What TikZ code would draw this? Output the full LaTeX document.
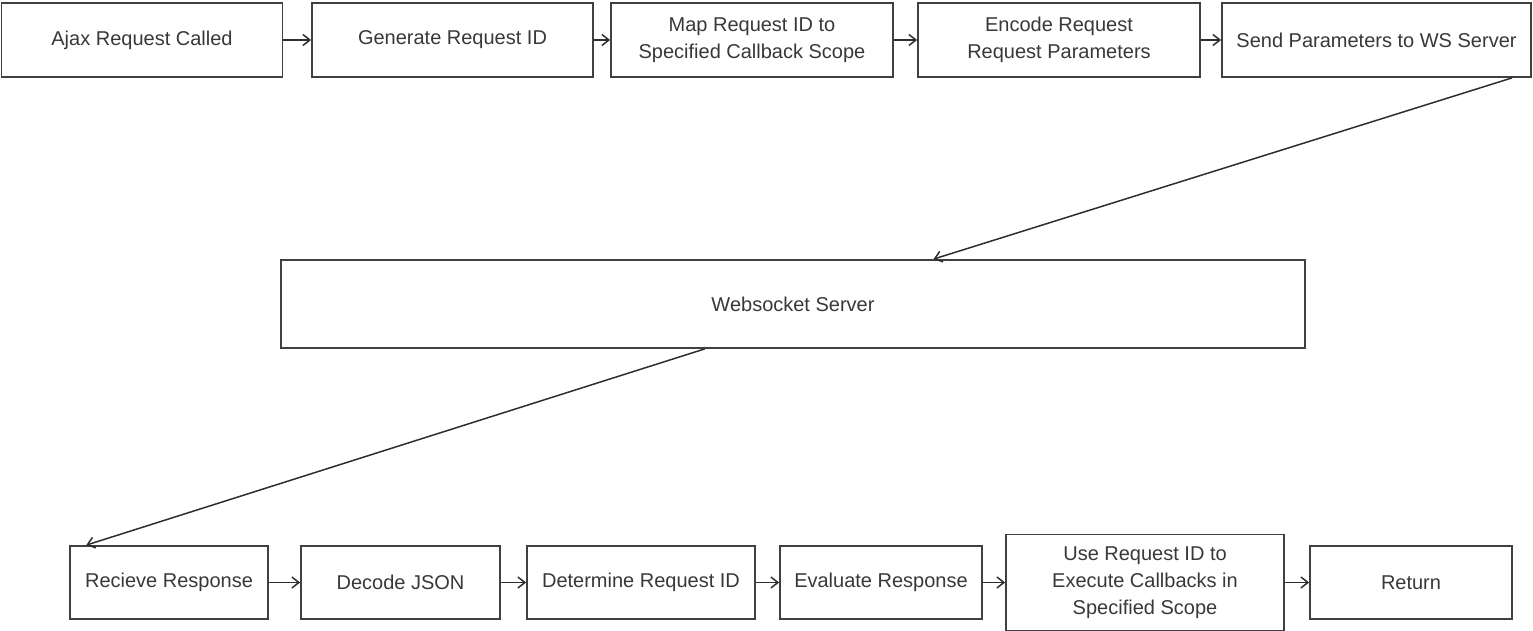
\documentclass[tikz,border=0pt]{standalone}
\usepackage{fontspec}
\setmainfont{Liberation Sans}
\usetikzlibrary{calc}
\usetikzlibrary{arrows.meta}

\begin{document}
\begin{tikzpicture}[x=1pt,y=-1pt,
        box/.style={draw=black!75,line width=1.8pt,text=black!78,align=center,
            inner sep=0pt,font=\fontsize{20}{27}\selectfont,minimum height=74pt},
        flow/.style={->,>={Straight Barb[length=7pt,width=11pt]},draw=black!82,line width=1.5pt}]
        \useasboundingbox (0,0) rectangle (1533,631);

        % request side
        \node[box,minimum width=281pt] (ajax) at (142,40) {Ajax Request Called};
        \node[box,minimum width=281pt] (gen) at (452.5,40) {Generate Request ID};
        \node[box,minimum width=282pt] (map) at (752,40) {Map Request ID to\\Specified Callback Scope};
        \node[box,minimum width=282pt] (enc) at (1059,40) {Encode Request\\Request Parameters};
        \node[box,minimum width=309pt] (send) at (1376.5,40) {Send Parameters to WS Server};

        \draw[flow] (ajax) -- (gen);
        \draw[flow] (gen) -- (map);
        \draw[flow] (map) -- (enc);
        \draw[flow] (enc) -- (send);

        % server
        \node[box,minimum width=1024pt,minimum height=88pt] (ws) at (793,304) {Websocket Server};

        % response side
        \node[box,minimum width=198pt,minimum height=73pt] (recv) at (169,582.5) {Recieve Response};
        \node[box,minimum width=199pt,minimum height=73pt] (dec) at (400.5,582.5) {Decode JSON};
        \node[box,minimum width=228pt,minimum height=73pt] (det) at (641,582.5) {Determine Request ID};
        \node[box,minimum width=202pt,minimum height=73pt] (eval) at (881,582.5) {Evaluate Response};
        \node[box,minimum width=278pt,minimum height=96pt] (use) at (1145,582.5) {Use Request ID to\\Execute Callbacks in\\Specified Scope};
        \node[box,minimum width=202pt,minimum height=73pt] (ret) at (1411,582.5) {Return};

        \draw[flow] ($(send.south west)!0.936!(send.south east)$) -- ($(ws.north west)!0.637!(ws.north east)$);
        \draw[flow] ($(ws.south west)!0.414!(ws.south east)$) -- ($(recv.north west)!0.086!(recv.north east)$);

        \draw[flow] (recv) -- (dec);
        \draw[flow] (dec) -- (det);
        \draw[flow] (det) -- (eval);
        \draw[flow] (eval) -- (use);
        \draw[flow] (use) -- (ret);
    \end{tikzpicture}
\end{document}
